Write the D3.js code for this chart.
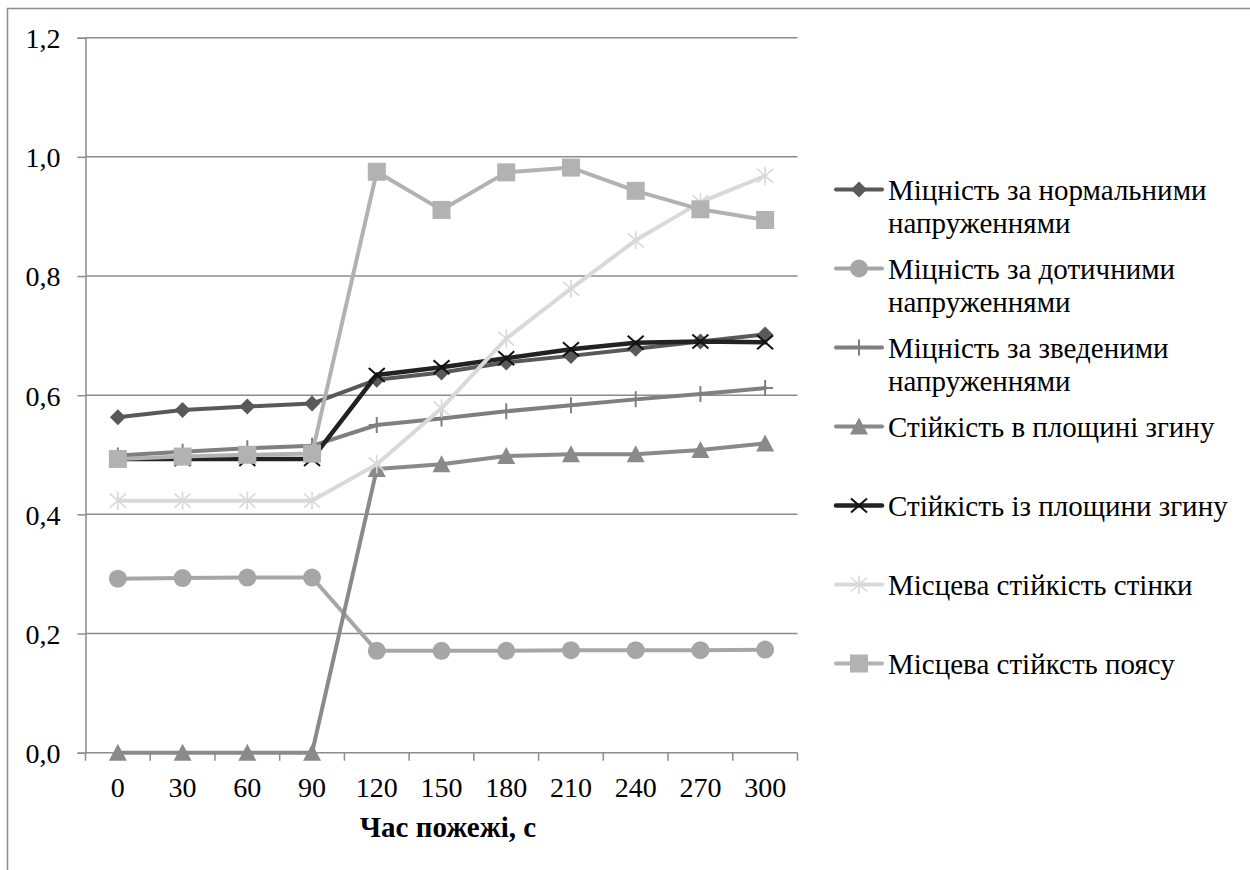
<!DOCTYPE html>
<html>
<head>
<meta charset="utf-8">
<script src="https://cdn.jsdelivr.net/npm/d3@7"></script>
<style>
  html, body { margin: 0; padding: 0; background: #ffffff; }
  svg { display: block; }
  svg text { font-family: "Liberation Serif", "DejaVu Serif", "Noto Serif", serif !important; fill: #000; }
</style>
</head>
<body>
<svg id="chart" width="1250" height="870"></svg>
<script>
// Fire exposure time, s
const categories = ["0", "30", "60", "90", "120", "150", "180", "210", "240", "270", "300"];

// Utilisation ratios of the element checks
const normalStrength   = [0.563, 0.575, 0.581, 0.586, 0.626, 0.638, 0.655, 0.666, 0.678, 0.690, 0.702];
const shearStrength    = [0.292, 0.293, 0.294, 0.294, 0.171, 0.171, 0.171, 0.172, 0.172, 0.172, 0.173];
const reducedStrength  = [0.499, 0.505, 0.511, 0.515, 0.550, 0.561, 0.573, 0.583, 0.593, 0.602, 0.612];
const inPlaneStability = [0.000, 0.000, 0.000, 0.000, 0.476, 0.484, 0.498, 0.501, 0.501, 0.508, 0.519];
const outPlaneStability= [0.493, 0.493, 0.493, 0.493, 0.634, 0.647, 0.662, 0.677, 0.688, 0.690, 0.689];
const webLocalStab     = [0.423, 0.423, 0.423, 0.423, 0.484, 0.578, 0.695, 0.779, 0.860, 0.924, 0.968];
const flangeLocalStab  = [0.493, 0.497, 0.500, 0.502, 0.975, 0.911, 0.974, 0.982, 0.943, 0.912, 0.894];

const seriesNames = [
  ["Міцність за нормальними", "напруженнями"],
  ["Міцність за дотичними", "напруженнями"],
  ["Міцність за зведеними", "напруженнями"],
  ["Стійкість в площині згину"],
  ["Стійкість із площини згину"],
  ["Місцева стійкість стінки"],
  ["Місцева стійксть поясу"]
];
const yTicks = [0, 0.2, 0.4, 0.6, 0.8, 1.0, 1.2];
const axisTitle = "Час пожежі, с";

const series = [
  { name: seriesNames[0], values: normalStrength,    color: "#595959", width: 4,   marker: "diamond" },
  { name: seriesNames[1], values: shearStrength,     color: "#a6a6a6", width: 4,   marker: "circle" },
  { name: seriesNames[2], values: reducedStrength,   color: "#7f7f7f", width: 4,   marker: "plus" },
  { name: seriesNames[3], values: inPlaneStability,  color: "#8a8a8a", width: 4,   marker: "triangle" },
  { name: seriesNames[4], values: outPlaneStability, color: "#222222", width: 4.5, marker: "x" },
  { name: seriesNames[5], values: webLocalStab,      color: "#d9d9d9", width: 4,   marker: "star" },
  { name: seriesNames[6], values: flangeLocalStab,   color: "#b2b2b2", width: 4,   marker: "square" }
];

const FONT = "'Liberation Serif', 'DejaVu Serif', 'Noto Serif', serif";
const svg = d3.select("#chart");
const grid = "#8c8c8c";
const plot = { left: 85.5, right: 797.5, top: 37.7, bottom: 752.7 };

// outer frame of the chart area
svg.append("rect")
  .attr("x", 7.5).attr("y", 8.5).attr("width", 1400).attr("height", 1000)
  .attr("fill", "none").attr("stroke", grid).attr("stroke-width", 1.5);

const x = d3.scaleBand().domain(categories).range([plot.left, plot.right]).paddingInner(0).paddingOuter(0);
const y = d3.scaleLinear().domain([0, 1.2]).range([plot.bottom, plot.top]);
const cx = c => x(c) + x.bandwidth() / 2;

// horizontal gridlines
svg.append("g").selectAll("line").data(yTicks.filter(d => d > 0)).join("line")
  .attr("x1", plot.left).attr("x2", plot.right)
  .attr("y1", d => y(d)).attr("y2", d => y(d))
  .attr("stroke", grid).attr("stroke-width", 1.5);

// y axis
const fmt = d => d3.format(".1f")(d).replace(".", ",");
const yAxis = svg.append("g").attr("transform", `translate(${plot.left},0)`)
  .call(d3.axisLeft(y).tickValues(yTicks).tickFormat(fmt).tickSize(8).tickPadding(17))
  .attr("font-family", FONT);
yAxis.select(".domain").attr("stroke", grid).attr("stroke-width", 1.5);
yAxis.selectAll(".tick line").attr("stroke", grid).attr("stroke-width", 1.5);
yAxis.selectAll("text").attr("font-size", 28).attr("dy", "0.35em").attr("fill", "#000");

// x axis: labels centred in each category, tick marks on category boundaries
const xAxis = svg.append("g").attr("transform", `translate(0,${plot.bottom})`)
  .call(d3.axisBottom(x).tickSize(0).tickPadding(0))
  .attr("font-family", FONT);
xAxis.select(".domain").remove();
xAxis.selectAll(".tick text").attr("font-size", 28).attr("y", 44.5).attr("dy", 0).attr("fill", "#000");
svg.append("line")
  .attr("x1", plot.left).attr("x2", plot.right).attr("y1", plot.bottom).attr("y2", plot.bottom)
  .attr("stroke", grid).attr("stroke-width", 1.5);
const bounds = categories.map(c => x(c)).concat([x(categories[categories.length - 1]) + x.bandwidth()]);
svg.append("g").selectAll("line").data(bounds).join("line")
  .attr("x1", d => d).attr("x2", d => d)
  .attr("y1", plot.bottom).attr("y2", plot.bottom + 8)
  .attr("stroke", grid).attr("stroke-width", 1.5);

svg.append("text")
  .attr("x", 448).attr("y", 836.5).attr("text-anchor", "middle")
  .attr("font-family", FONT).attr("font-size", 29).attr("font-weight", "bold")
  .text(axisTitle);

// marker drawing
function drawMarker(g, type, color) {
  switch (type) {
    case "diamond":
      g.append("path").attr("d", "M0,-8L8,0L0,8L-8,0Z").attr("fill", color);
      break;
    case "circle":
      g.append("circle").attr("r", 9).attr("fill", color);
      break;
    case "square":
      g.append("rect").attr("x", -9).attr("y", -9).attr("width", 18).attr("height", 18).attr("fill", color);
      break;
    case "triangle":
      g.append("path").attr("d", "M0,-9L9,8L-9,8Z").attr("fill", color);
      break;
    case "plus":
      g.append("path").attr("d", "M0,-8V8M-8,0H8").attr("stroke", color).attr("stroke-width", 2);
      break;
    case "x":
      g.append("path").attr("d", "M-8,-7L8,7M-8,7L8,-7").attr("stroke", "#111").attr("stroke-width", 2);
      break;
    case "star":
      g.append("path").attr("d", "M-8,-7L8,7M-8,7L8,-7M0,-9V9").attr("stroke", color).attr("stroke-width", 1.6);
      break;
  }
}

const line = d3.line().x((d, i) => cx(categories[i])).y(d => y(d));

series.forEach(s => {
  const g = svg.append("g");
  g.append("path").datum(s.values)
    .attr("d", line)
    .attr("fill", "none").attr("stroke", s.color).attr("stroke-width", s.width)
    .attr("stroke-linejoin", "round").attr("stroke-linecap", "round");
  s.values.forEach((v, i) => {
    const m = g.append("g").attr("transform", `translate(${cx(categories[i])},${y(v)})`);
    drawMarker(m, s.marker, s.color);
  });
});

// legend
const legend = svg.append("g").attr("font-family", FONT);
const legendTop = 189.5, legendStep = 79;
series.forEach((s, i) => {
  const ly = legendTop + i * legendStep;
  const item = legend.append("g").attr("transform", `translate(0,${ly})`);
  item.append("line").attr("x1", 836).attr("x2", 882).attr("y1", 0).attr("y2", 0)
    .attr("stroke", s.color).attr("stroke-width", s.width).attr("stroke-linecap", "round");
  drawMarker(item.append("g").attr("transform", "translate(859,0)"), s.marker, s.color);
  s.name.forEach((ln, j) => {
    item.append("text").attr("x", 888).attr("y", 10 + j * 33.5)
      .attr("font-size", 29).text(ln);
  });
});
</script>
</body>
</html>
